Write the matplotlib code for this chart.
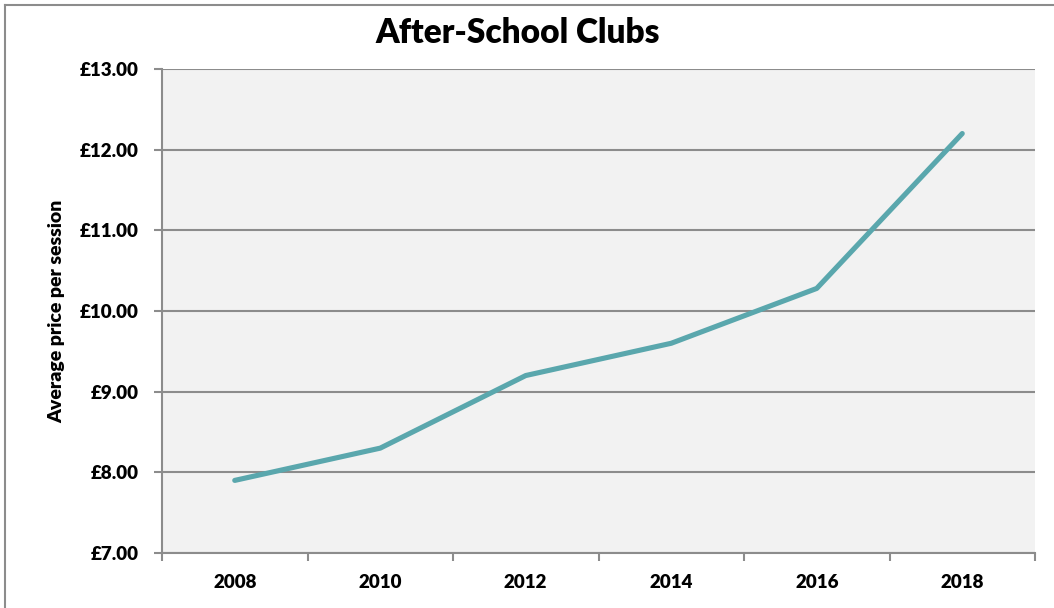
import matplotlib
matplotlib.use("Agg")
import matplotlib.pyplot as plt
from matplotlib.lines import Line2D

years = ["2008", "2010", "2012", "2014", "2016", "2018"]
prices = [7.90, 8.30, 9.20, 9.60, 10.28, 12.20]
y_ticks = [7, 8, 9, 10, 11, 12, 13]
y_labels = ["£7.00", "£8.00", "£9.00", "£10.00", "£11.00", "£12.00", "£13.00"]

plt.rcParams["font.family"] = ["Lato", "DejaVu Sans"]
WEIGHT = "heavy"

W, H = 1054, 608
fig = plt.figure(figsize=(W / 100, H / 100), dpi=100)
ax = fig.add_axes([162 / W, 1 - 553 / H, (1035 - 162) / W, (553 - 69) / H])

ax.set_facecolor("#F2F2F2")
x = list(range(len(years)))
ax.plot(x, prices, color="#5AA7AD", lw=3.7, solid_capstyle="round", zorder=3)

ax.set_xlim(-0.5, len(years) - 0.5)
ax.set_ylim(7, 13)
ax.set_yticks(y_ticks)
ax.set_yticklabels(y_labels, fontsize=13.5, fontweight=WEIGHT)
ax.set_xticks(x)
ax.set_xticklabels(years, fontsize=13.5, fontweight=WEIGHT)
ax.set_xticks([i - 0.5 for i in range(len(years) + 1)], minor=True)
ax.tick_params(axis="x", which="major", length=0, pad=15)
ax.tick_params(axis="x", which="minor", length=6, color="#8C8C8C", width=1.5)
ax.tick_params(axis="y", length=6, color="#8C8C8C", width=1.5, pad=11)
ax.yaxis.grid(True, color="#8C8C8C", lw=1.5)
ax.set_axisbelow(True)
for s in ["top", "right"]:
    ax.spines[s].set_visible(False)
for s in ["left", "bottom"]:
    ax.spines[s].set_color("#8C8C8C")
    ax.spines[s].set_linewidth(1.5)

ax.set_ylabel("Average price per session", fontsize=14, fontweight=WEIGHT, labelpad=10)
fig.text(518 / W, 1 - 33 / H, "After-School Clubs", ha="center", va="center",
         fontsize=24, fontweight=WEIGHT)

# chart frame (left and top edges)
fig.add_artist(Line2D([5 / W, 5 / W], [0, 1 - 5 / H], transform=fig.transFigure,
                      color="#8C8C8C", lw=1.5))
fig.add_artist(Line2D([5 / W, 1], [1 - 5 / H, 1 - 5 / H], transform=fig.transFigure,
                      color="#8C8C8C", lw=1.5))

fig.savefig("out.png", dpi=100)
